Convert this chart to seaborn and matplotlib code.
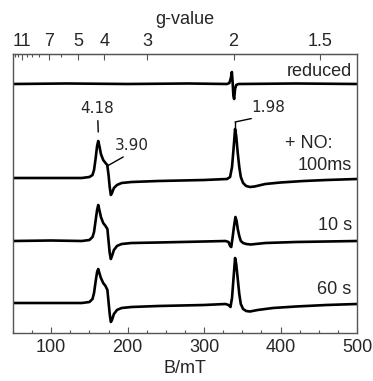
import numpy as np
import pandas as pd
import matplotlib
matplotlib.use("Agg")
import matplotlib.pyplot as plt
import seaborn as sns

# ---------------- data ----------------
# magnetic field (mT) and signal relative to baseline (arb. units)
B_reduced = [50, 120, 200, 280, 330, 333, 335, 336.3, 337.3, 338.3, 339.3, 340.5, 342, 345, 420, 500]
I_reduced = [0, 0.5, 0, 0.5, 0, 1, 6, 12, 2, -12, -15, -5, -1, 0, 0.5, 0]

B_100ms = [50, 100, 140, 150, 154, 156, 158, 160, 161.5, 163, 165, 168, 171, 173.3, 175, 176.5, 178,
           179.5, 182, 186, 192, 205, 240, 300, 330, 334, 336.5, 338.5, 340.5, 342, 344, 346, 348,
           351, 355, 360, 366, 380, 400, 430, 460, 500]
I_100ms = [1, 1, 1, 2, 4, 9, 20, 33, 38, 33, 25, 19, 16, 14, 4, -8, -16,
           -14, -9, -6, -4, -3, -2, -1, 0, 2, 12, 30, 50, 43, 26, 12, 2,
           -4, -7, -8, -7.5, -5, -3.5, -2, -1, 0]

B_10s = [50, 100, 140, 150, 154, 156, 158, 160, 161.5, 163, 165, 168, 171, 173.5, 175, 176.5, 178,
         179.5, 182, 186, 192, 205, 240, 300, 328, 332, 334, 335.5, 337, 339, 341, 342.5, 344, 346,
         348, 351, 355, 361, 380, 420, 500]
I_10s = [0, 0.5, 0, 1, 4, 9, 20, 31, 36, 31, 24, 18, 15, 12, 0, -12, -18,
         -15, -9, -5, -3, -2, -1.5, -0.5, 0, -1, -5, -6, 2, 14, 24, 20, 12, 5,
         0, -2, -3, -3.5, -2, -1, 0]

B_60s = [50, 100, 140, 150, 154, 156, 158, 160, 161.5, 163, 165, 168, 171, 173.5, 175, 176.5, 178,
         179.5, 182, 186, 192, 205, 240, 300, 328, 332, 334.5, 336.5, 338.5, 340.5, 342, 344, 346,
         348, 351, 355, 360, 370, 390, 420, 460, 500]
I_60s = [1, 1, 1, 2, 5, 11, 22, 32, 35, 31, 26, 21, 18, 14, 2, -10, -18,
         -16, -10, -6, -4, -3, -2, -1, 0, -1, -3, 6, 26, 46, 40, 25, 10,
         0, -5, -7, -7.5, -6, -4, -2.5, -1, 0]

trace_names = ["reduced", "100ms", "10 s", "60 s"]
trace_offsets = [249, 154, 92, 29]

g_major = [11, 7, 5, 4, 3, 2, 1.5]
g_major_labels = ["11", "7", "5", "4", "3", "2", "1.5"]
g_minor = [13, 12, 10, 9, 8, 6]
g_factor = 677.0  # B(mT) * g  (microwave frequency ~9.48 GHz)

x_ticks = [100, 200, 300, 400, 500]

# ---------------- build table ----------------
frames = []
for name, B, I, off in zip(trace_names,
                           [B_reduced, B_100ms, B_10s, B_60s],
                           [I_reduced, I_100ms, I_10s, I_60s],
                           trace_offsets):
    frames.append(pd.DataFrame({"B": B, "y": np.array(I) + off, "trace": name}))
df = pd.concat(frames, ignore_index=True)

# ---------------- figure ----------------
sns.set_style("ticks")
plt.rcParams["font.family"] = ["Liberation Sans", "DejaVu Sans"]

fig = plt.figure(figsize=(3.73, 3.81), dpi=100)
ax = fig.add_axes([13 / 373, 1 - 333 / 381, 344 / 373, 279 / 381])

for name in trace_names:
    sub = df[df["trace"] == name]
    sns.lineplot(data=sub, x="B", y="y", color="black", linewidth=1.9,
                 estimator=None, sort=False, ax=ax, legend=False)

ax.set_xlim(50, 500)
ax.set_ylim(0, 279)
ax.set_yticks([])
ax.set_ylabel("")
ax.set_xlabel("B/mT", fontsize=13, labelpad=3)
ax.set_xticks(x_ticks)
ax.set_xticks(np.arange(50, 501, 25), minor=True)
ax.tick_params(axis="x", which="major", direction="in", length=4, width=0.8,
               labelsize=13, pad=4, color="#555555")
ax.tick_params(axis="x", which="minor", direction="in", length=2, width=0.8,
               color="#555555")
for sp in ax.spines.values():
    sp.set_visible(True)
    sp.set_color("#555555")
    sp.set_linewidth(1.0)


def b2g(b):
    b = np.asarray(b, dtype=float)
    return g_factor / np.where(b == 0, 1e-9, b)


def g2b(g):
    g = np.asarray(g, dtype=float)
    return g_factor / np.where(g == 0, 1e-9, g)


sec = ax.secondary_xaxis("top", functions=(b2g, g2b))
sec.set_xticks(g_major)
sec.set_xticklabels(g_major_labels)
sec.set_xticks(g_minor, minor=True)
sec.tick_params(axis="x", which="major", direction="in", length=4, width=0.8,
                labelsize=13, pad=3, color="#555555")
sec.tick_params(axis="x", which="minor", direction="in", length=2, width=0.8,
                color="#555555")
sec.set_xlabel("g-value", fontsize=13, labelpad=6)
sec.spines["top"].set_color("#555555")

# ---------------- annotations ----------------
off100 = trace_offsets[1]
i_pk1 = int(np.argmax(I_100ms[:15]))
pk1_B, pk1_y = B_100ms[i_pk1], I_100ms[i_pk1] + off100
i_sh = B_100ms.index(173.3)
sh_B, sh_y = B_100ms[i_sh], I_100ms[i_sh] + off100
i_pk2 = int(np.argmax(I_100ms))
pk2_B, pk2_y = B_100ms[i_pk2], I_100ms[i_pk2] + off100

ann = dict(fontsize=11, family="DejaVu Sans")
line = dict(arrowstyle="-", color="black", lw=1.0, shrinkA=1, shrinkB=0)

ax.annotate("4.18", xy=(pk1_B, pk1_y + 9), xytext=(pk1_B - 1, pk1_y + 25),
            ha="center", va="bottom", arrowprops=line, **ann)
ax.annotate("3.90", xy=(sh_B, sh_y - 1), xytext=(sh_B + 10, sh_y + 12),
            ha="left", va="bottom",
            arrowprops=dict(line, relpos=(0.45, 0)), **ann)
ax.plot([pk2_B, pk2_B], [pk2_y, pk2_y + 7], color="black", lw=1.0)
ax.annotate("1.98", xy=(pk2_B, pk2_y + 7), xytext=(pk2_B + 21, pk2_y + 14),
            ha="left", va="bottom",
            arrowprops=dict(line, relpos=(0.5, 0)), **ann)

lbl = dict(fontsize=13, ha="right", va="center")
xr = 493
ax.text(xr, trace_offsets[0] + 12, "reduced", **lbl)
ax.text(xr - 25, off100 + 36, "+ NO:", **lbl)
ax.text(xr, off100 + 14, "100ms", **lbl)
ax.text(xr, trace_offsets[2] + 16, "10 s", **lbl)
ax.text(xr, trace_offsets[3] + 14, "60 s", **lbl)

fig.savefig("out.png", dpi=100)
